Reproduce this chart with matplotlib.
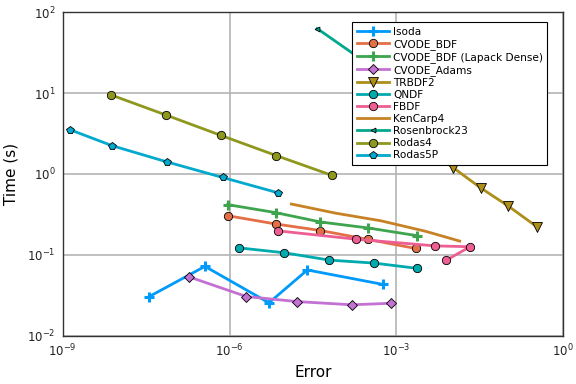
import matplotlib
matplotlib.use("Agg")
import matplotlib.pyplot as plt

# work-precision data (error, time in s)
isoda_err = [3.6e-8, 3.6e-7, 5.1e-6, 2.5e-5, 5.8e-4]
isoda_time = [0.0305, 0.072, 0.0255, 0.065, 0.043]

cvode_bdf_err = [9.2e-7, 6.7e-6, 4.3e-5, 3.1e-4, 2.2e-3]
cvode_bdf_time = [0.305, 0.241, 0.200, 0.155, 0.120]

cvode_lapack_err = [9.2e-7, 6.7e-6, 4.3e-5, 3.1e-4, 2.3e-3]
cvode_lapack_time = [0.418, 0.333, 0.255, 0.215, 0.173]

cvode_adams_err = [1.9e-7, 2.0e-6, 1.65e-5, 1.6e-4, 7.9e-4]
cvode_adams_time = [0.0532, 0.0305, 0.0264, 0.0241, 0.0252]

trbdf2_err = [3.3e-4, 1.05e-3, 3.3e-3, 1.04e-2, 3.3e-2, 0.103, 0.33]
trbdf2_time = [6.8, 3.8, 2.1, 1.20, 0.67, 0.40, 0.224]

qndf_err = [1.47e-6, 9.7e-6, 6.2e-5, 4.0e-4, 2.37e-3]
qndf_time = [0.122, 0.106, 0.0861, 0.079, 0.068]

fbdf_err = [7.4e-6, 1.9e-4, 5.0e-3, 2.1e-2, 7.8e-3]
fbdf_time = [0.198, 0.156, 0.129, 0.126, 0.0855]

kencarp4_err = [1.29e-5, 8.2e-5, 5.2e-4, 3.3e-3, 1.37e-2]
kencarp4_time = [0.425, 0.327, 0.264, 0.196, 0.148]

rosenbrock23_err = [3.75e-5, 3.7e-4, 3.7e-3, 3.7e-2]
rosenbrock23_time = [63.0, 21.0, 7.2, 2.4]

rodas4_err = [7.4e-9, 7.2e-8, 7.0e-7, 6.9e-6, 6.8e-5]
rodas4_time = [9.5, 5.36, 3.0, 1.69, 0.966]

rodas5p_err = [1.35e-9, 7.7e-9, 7.5e-8, 7.5e-7, 7.3e-6]
rodas5p_time = [3.53, 2.24, 1.41, 0.906, 0.587]

x_ticks = [1e-9, 1e-6, 1e-3, 1e0]
y_ticks = [1e-2, 1e-1, 1e0, 1e1, 1e2]

series = [
    ("Isoda", isoda_err, isoda_time, "#009AFA", "+"),
    ("CVODE_BDF", cvode_bdf_err, cvode_bdf_time, "#E36F47", "o"),
    ("CVODE_BDF (Lapack Dense)", cvode_lapack_err, cvode_lapack_time, "#3EA44E", "+"),
    ("CVODE_Adams", cvode_adams_err, cvode_adams_time, "#C371D2", "D"),
    ("TRBDF2", trbdf2_err, trbdf2_time, "#AC8E18", "v"),
    ("QNDF", qndf_err, qndf_time, "#00AAAE", "o"),
    ("FBDF", fbdf_err, fbdf_time, "#ED5E93", "o"),
    ("KenCarp4", kencarp4_err, kencarp4_time, "#C68225", None),
    ("Rosenbrock23", rosenbrock23_err, rosenbrock23_time, "#00A98D", "<"),
    ("Rodas4", rodas4_err, rodas4_time, "#8E971E", "o"),
    ("Rodas5P", rodas5p_err, rodas5p_time, "#00A9CD", "p"),
]

fig = plt.figure(figsize=(5.76, 3.84), dpi=100)
ax = fig.add_axes([0.1089, 0.1258, 0.978 - 0.1089, 0.968 - 0.1258])

for label, err, t, color, marker in series:
    kw = dict(color=color, lw=2.0, label=label)
    if marker == "+":
        kw.update(marker="+", ms=7, mew=2.2, mec=color)
    elif marker == "<":
        kw.update(marker="<", ms=3.5, mec="black", mew=0.6)
    elif marker == "D":
        kw.update(marker="D", ms=4.8, mec="black", mew=0.6)
    elif marker == "v":
        kw.update(marker="v", ms=6.5, mec="black", mew=0.6)
    elif marker is not None:
        kw.update(marker=marker, ms=6, mec="black", mew=0.6)
    ax.plot(err, t, **kw)

ax.set_xscale("log")
ax.set_yscale("log")
ax.set_xlim(1e-9, 1e0)
ax.set_ylim(1e-2, 1e2)
ax.set_xticks(x_ticks)
ax.set_yticks(y_ticks)
ax.minorticks_off()
ax.tick_params(length=0, labelsize=8.5, colors="#222222", pad=5)
ax.grid(True, color="#b4b4b4", lw=1.2)
ax.set_axisbelow(True)
for s in ax.spines.values():
    s.set_color("#333333")
    s.set_linewidth(1.0)

ax.set_xlabel("Error", fontsize=11, labelpad=4)
ax.set_ylabel("Time (s)", fontsize=11, labelpad=6)

leg = ax.legend(loc="upper right", bbox_to_anchor=(0.968, 0.969), borderaxespad=0,
                fontsize=7.6, labelspacing=0.2, handlelength=3.1, handletextpad=0.35,
                borderpad=0.4, fancybox=False, framealpha=1.0, edgecolor="black")
leg.get_frame().set_linewidth(0.8)

fig.savefig("out.png", dpi=100)
